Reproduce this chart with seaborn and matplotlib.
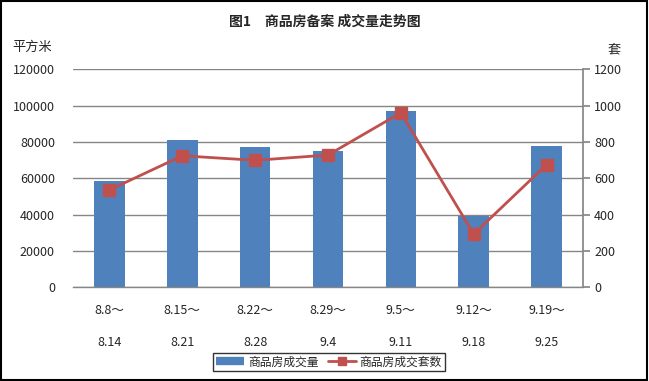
import numpy as np
import pandas as pd
import matplotlib
matplotlib.use("Agg")
import matplotlib.pyplot as plt
import seaborn as sns
from matplotlib.lines import Line2D
from matplotlib.patches import Rectangle

# data
weeks = ["8.8～\n\n8.14", "8.15～\n\n8.21", "8.22～\n\n8.28", "8.29～\n\n9.4",
         "9.5～\n\n9.11", "9.12～\n\n9.18", "9.19～\n\n9.25"]
area = [58500, 81000, 77200, 75000, 97000, 39400, 77800]   # 平方米
units = [536, 724, 699, 728, 961, 293, 675]                 # 套

bar_color = "#4F81BD"
line_color = "#C0504D"
grid_color = "#868686"

sns.set_theme(style="white")
plt.rcParams['font.family'] = ['Noto Sans CJK SC', 'DejaVu Sans']

fig = plt.figure(figsize=(6.49, 3.81), dpi=100)
ax = fig.add_axes([73 / 649, 1 - 287.3 / 381, (583 - 73) / 649, (287.3 - 69.3) / 381])

df = pd.DataFrame({"week": weeks, "area": area})
sns.barplot(data=df, x="week", y="area", color=bar_color, width=0.42,
            saturation=1, linewidth=0, edgecolor=bar_color, ax=ax, zorder=2)

ax.set_ylim(0, 120000)
ax.set_yticks(np.arange(0, 120001, 20000))
ax.set_xlim(-0.5, 6.5)
ax.yaxis.grid(True, color=grid_color, linewidth=1)
ax.set_axisbelow(True)
for s in ["top", "left", "right"]:
    ax.spines[s].set_visible(False)
ax.spines["bottom"].set_color(grid_color)
ax.spines["bottom"].set_linewidth(1)
ax.set_xlabel("")
ax.set_ylabel("")
ax.tick_params(axis="y", length=0, pad=13, labelsize=9)
ax.tick_params(axis="x", length=0, pad=12, labelsize=9)
for lab in ax.get_xticklabels():
    lab.set_linespacing(1.3)

ax2 = ax.twinx()
ax2.plot(range(len(units)), units, color=line_color, linewidth=2,
         marker="s", markersize=8, zorder=3)
ax2.set_ylim(0, 1200)
ax2.set_yticks(np.arange(0, 1201, 200))
for s in ["top", "left", "bottom"]:
    ax2.spines[s].set_visible(False)
ax2.spines["right"].set_color(grid_color)
ax2.tick_params(axis="y", right=True, direction="out", length=5,
                color=grid_color, pad=3, labelsize=9)

fig.text(0.5, 1 - 22 / 381, "图1　商品房备案 成交量走势图", ha="center", va="center",
         fontsize=10, fontweight="bold")
fig.text(12 / 649, 1 - 47 / 381, "平方米", ha="left", va="center", fontsize=9.5)
fig.text(614 / 649, 1 - 50 / 381, "套", ha="center", va="center", fontsize=9.5)

handles = [Line2D([0], [0], color=bar_color, linewidth=6, solid_capstyle="butt"),
           Line2D([0], [0], color=line_color, linewidth=2, marker="s", markersize=6)]
leg = fig.legend(handles, ["商品房成交量", "商品房成交套数"], loc="center",
                 bbox_to_anchor=(329 / 649, 1 - 362 / 381), ncol=2, fontsize=8.5,
                 frameon=True, fancybox=False, edgecolor="black",
                 handlelength=2.4, columnspacing=0.8, handletextpad=0.3,
                 borderpad=0.25)
leg.get_frame().set_linewidth(1)

fig.patches.append(Rectangle((0.002, 0.003), 0.995, 0.994, transform=fig.transFigure,
                             fill=False, edgecolor="black", linewidth=1.5))

fig.savefig("out.png", dpi=100)
